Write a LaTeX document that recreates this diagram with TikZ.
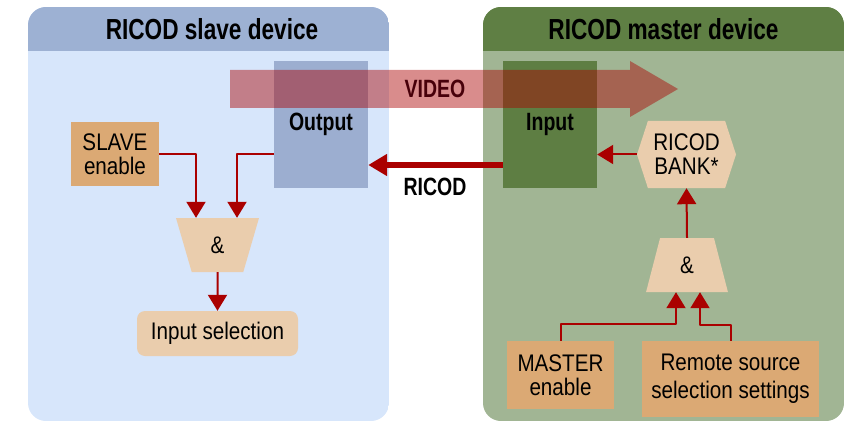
\documentclass[tikz,border=0pt]{standalone}
\usepackage{fontspec}
\setmainfont{Liberation Sans}[FakeStretch=0.86, BoldFeatures={FakeStretch=0.78}]
\usetikzlibrary{arrows.meta,shapes.geometric,shapes.symbols}

\definecolor{slavehead}{RGB}{157,177,211}
\definecolor{slavebody}{RGB}{215,230,251}
\definecolor{masterhead}{RGB}{95,127,68}
\definecolor{masterbody}{RGB}{161,181,148}
\definecolor{outputbox}{RGB}{156,174,208}
\definecolor{inputbox}{RGB}{94,126,67}
\definecolor{orangebox}{RGB}{219,169,116}
\definecolor{peach}{RGB}{234,205,173}
\definecolor{ricodred}{RGB}{170,0,0}
\definecolor{videotext}{RGB}{72,0,10}

\begin{document}
\begin{tikzpicture}[x=1pt, y=-1pt, line join=round,
  font=\fontsize{24}{24}\selectfont,
  panelhead/.style={font=\fontsize{29}{30}\selectfont\bfseries},
  setting/.style={fill=orangebox, inner sep=0pt, align=center},
  port/.style={inner sep=0pt, font=\fontsize{25}{26}\selectfont\bfseries},
  gate/.style={trapezium, trapezium stretches=true, fill=peach, inner sep=0pt, minimum height=54pt},
  sig/.style={draw=ricodred, line width=2pt, -{Triangle[length=16pt,width=19pt]}}]
\useasboundingbox (0,0) rectangle (853,422);

% Slave device panel
\begin{scope}
  \clip[rounded corners=18pt] (28,7) rectangle (389,421);
  \fill[slavebody] (28,7) rectangle (389,421);
  \fill[slavehead] (28,7) rectangle (389,51);
\end{scope}
\node[panelhead] (slavetitle) at (212,29) {RICOD slave device};

% Master device panel
\begin{scope}
  \clip[rounded corners=18pt] (483,7) rectangle (844,421);
  \fill[masterbody] (483,7) rectangle (844,421);
  \fill[masterhead] (483,7) rectangle (844,51);
\end{scope}
\node[panelhead] (mastertitle) at (663.5,29) {RICOD master device};

% Output and Input ports
\node[port, fill=outputbox, minimum width=94pt, minimum height=127pt] (output) at (321,124.5) {Output};
\node[port, fill=inputbox, minimum width=94pt, minimum height=127pt] (input) at (550,124.5) {Input};

% Video stream
\fill[ricodred, opacity=.45] (230,70) -- (630,70) -- (630,61) -- (678,89) -- (630,117) -- (630,108) -- (230,108) -- cycle;
\node[port, text=videotext] (videolbl) at (435,89) {VIDEO};

% RICOD link
\draw[ricodred, line width=6pt, -{Triangle[length=19pt,width=21pt]}] ([yshift=-40.5pt]input.west) -- ([yshift=-40.5pt]output.east);
\node[port] (ricodlbl) at (435,187) {RICOD};

% Slave logic
\node[setting, minimum width=88pt, minimum height=64pt] (slaveen) at (115,154) {SLAVE\\enable};
\node[gate, trapezium angle=76, minimum width=83pt, shape border rotate=180] (sgate) at (217.5,245) {\&};
\node[fill=peach, rounded corners=8pt, minimum width=161pt, minimum height=45pt, inner sep=0pt] (insel) at (217.5,333.5) {Input selection};
\draw[sig] (slaveen.east) -| ([xshift=-21.5pt]sgate.north);
\draw[sig] (output.west |- slaveen.east) -| ([xshift=19.5pt]sgate.north);
\draw[sig] (sgate.south) -- (insel.north);

% Master logic
\node[signal, signal to=west and east, signal pointer angle=144, fill=peach, minimum width=99pt, minimum height=67pt, inner sep=0pt, align=center] (bank) at (686.5,154.5) {RICOD\\BANK*};
\node[gate, trapezium angle=78, minimum width=82pt] (mgate) at (687,265) {\&};
\node[setting, minimum width=107pt, minimum height=68pt] (menable) at (560.5,375) {MASTER\\enable};
\node[setting, minimum width=177pt, minimum height=76pt, font=\fontsize{24}{28}\selectfont] (remote) at (730.5,379) {Remote source\\selection settings};
\draw[sig] (bank.west) -- (input.east |- bank.west);
\draw[sig] (mgate.north) -- (bank.south);
\draw[sig] (menable.north) -- ++(0,-17) -| ([xshift=-11pt]mgate.south);
\draw[sig] (remote.north) -- ++(0,-16) -| ([xshift=13pt]mgate.south);
\end{tikzpicture}
\end{document}
